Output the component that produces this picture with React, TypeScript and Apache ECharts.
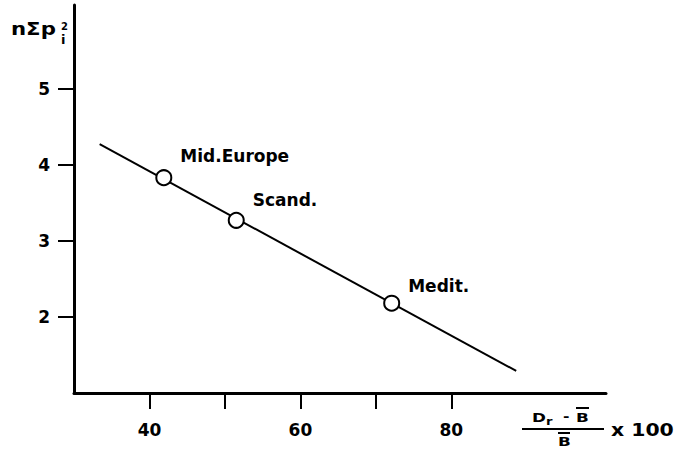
import React, { useEffect, useRef } from "react";
import * as echarts from "echarts";

// ---- data ----
const regions = ["Mid.Europe", "Scand.", "Medit."];
const relDiff = [41.9, 51.5, 72.1]; // (Dr - B̄)/B̄ x 100
const sumP2 = [3.83, 3.27, 2.18]; // n Σ p_i^2
const fitX = [33.4, 88.6];
const fitY = [4.27, 1.29];
const xTickValues = [40, 50, 60, 70, 80];
const xLabelValues = [40, 60, 80];
const yTickValues = [2, 3, 4, 5];

// label vertical offsets (layout, not data)
const labelDy = [-22, -20, -17];

const FONT = "DejaVu Sans";

export default function App() {
  const ref = useRef<HTMLDivElement>(null);

  useEffect(() => {
    if (!ref.current) return;
    const chart = echarts.init(ref.current, null, { renderer: "svg" });

    const points = relDiff.map((x, i) => ({
      value: [x, sumP2[i]],
      name: regions[i],
      label: { offset: [0, labelDy[i]] },
    }));
    const fitLine = fitX.map((x, i) => [x, fitY[i]]);

    const txt = (
      text: string,
      x: number,
      y: number,
      size: number,
      sx = 1
    ) => ({
      type: "text",
      x,
      y,
      scaleX: sx,
      silent: true,
      style: {
        text,
        fill: "#000",
        font: `bold ${size}px "${FONT}"`,
        textAlign: "left",
        textVerticalAlign: "middle",
      },
    });
    const ln = (x1: number, y1: number, x2: number, y2: number, w = 2) => ({
      type: "line",
      silent: true,
      shape: { x1, y1, x2, y2 },
      style: { stroke: "#000", lineWidth: w },
    });

    chart.setOption({
      animation: false,
      backgroundColor: "#fff",
      grid: { left: 74, right: 82, top: 5, bottom: 60, containLabel: false },
      xAxis: {
        type: "value",
        min: 30,
        max: 100.5,
        splitLine: { show: false },
        axisLine: { show: true, lineStyle: { color: "#000", width: 3 } },
        axisTick: {
          show: true,
          length: 16,
          customValues: xTickValues,
          lineStyle: { color: "#000", width: 2 },
        },
        axisLabel: {
          customValues: xLabelValues,
          margin: 28,
          color: "#000",
          fontFamily: FONT,
          fontWeight: "bold",
          fontSize: 17,
        },
      },
      yAxis: {
        type: "value",
        min: 1,
        max: 6.1,
        splitLine: { show: false },
        axisLine: { show: true, lineStyle: { color: "#000", width: 3 } },
        axisTick: {
          show: true,
          length: 16,
          customValues: yTickValues,
          lineStyle: { color: "#000", width: 2 },
        },
        axisLabel: {
          customValues: yTickValues,
          margin: 24,
          color: "#000",
          fontFamily: FONT,
          fontWeight: "bold",
          fontSize: 17,
        },
      },
      series: [
        {
          type: "line",
          data: fitLine,
          showSymbol: false,
          symbol: "none",
          silent: true,
          lineStyle: { color: "#000", width: 2 },
          z: 2,
        },
        {
          type: "scatter",
          data: points,
          symbol: "circle",
          symbolSize: 15,
          itemStyle: { color: "#fff", borderColor: "#000", borderWidth: 2, opacity: 1 },
          label: {
            show: true,
            position: "right",
            distance: 8,
            formatter: (p: any) => p.name,
            color: "#000",
            opacity: 1,
            fontFamily: FONT,
            fontWeight: "bold",
            fontSize: 17,
          },
          z: 3,
        },
      ],
      graphic: [
        // y-axis title: n Σ p_i^2
        txt("nΣp", 11, 29, 17, 1.25),
        txt("2", 61, 26, 10),
        txt("i", 61, 39, 13),
        // x-axis title: (D_r - B̄)/B̄ x 100
        txt("D", 532, 417, 12, 1.4),
        txt("r", 546, 421, 11, 1.2),
        txt("-", 563, 417, 12, 1.3),
        txt("B", 576, 417, 12, 1.4),
        ln(576, 408, 589, 408, 2),
        ln(522, 429, 604, 429, 2),
        txt("B", 558, 441, 12, 1.4),
        ln(558, 433, 570, 433, 2),
        txt("x 100", 611, 430, 17, 1.2),
      ],
    });

    return () => chart.dispose();
  }, []);

  return (
    <div
      ref={ref}
      style={{ position: "fixed", left: 0, top: 0, width: 688, height: 453, background: "#fff" }}
    />
  );
}
